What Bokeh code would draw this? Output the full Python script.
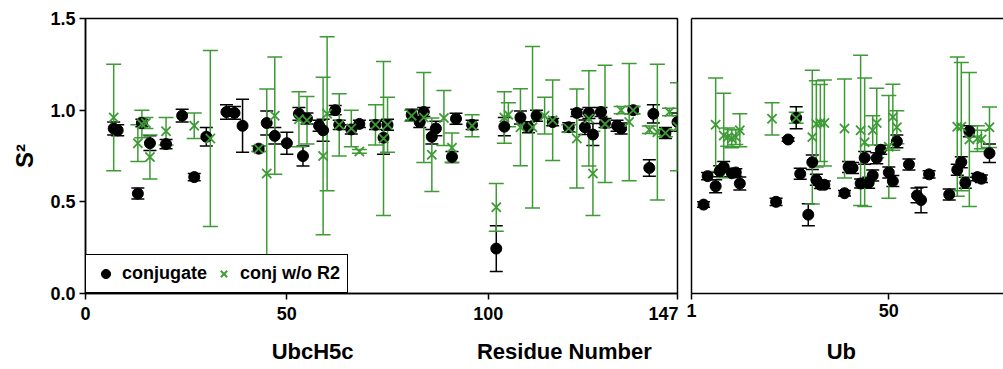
from bokeh.plotting import figure
from bokeh.models import (Whisker, TeeHead, ColumnDataSource, FixedTicker, PrintfTickFormatter,
                          Legend, LegendItem, LinearAxis)
from bokeh.core.properties import value
from bokeh.layouts import row, column
from bokeh.embed import file_html
from bokeh.resources import INLINE

FONT = "Liberation Sans"
GREEN = "#3d9a35"

# ---------------- UbcH5c (left panel) ----------------
ubc_conj_res = [7, 8, 13, 14, 16, 20, 24, 27, 30, 35, 37, 39, 43, 45, 47, 50, 53, 54, 55, 58, 59, 62, 63,
                66, 68, 72, 74, 75, 81, 83, 84, 86, 87, 91, 92, 96, 102, 104, 108, 110, 112, 116, 120, 122,
                124, 125, 126, 128, 129, 132, 133, 136, 140, 141, 144, 147]
ubc_conj_s2 = [0.90, 0.89, 0.545, 0.93, 0.82, 0.815, 0.97, 0.635, 0.855, 0.99, 0.985, 0.915, 0.79, 0.93,
               0.86, 0.82, 0.98, 0.75, 0.955, 0.915, 0.89, 1.0, 0.92, 0.895, 0.925, 0.92, 0.85, 0.92,
               0.975, 0.935, 0.99, 0.855, 0.90, 0.745, 0.953, 0.92, 0.245, 0.91, 0.96, 0.907, 0.97,
               0.935, 0.907, 0.985, 0.907, 0.985, 0.867, 0.99, 0.93, 0.915, 0.90, 1.0, 0.685, 0.98,
               0.875, 0.935]
ubc_conj_err = [0.035, 0.03, 0.03, 0.02, 0.04, 0.025, 0.035, 0.02, 0.05, 0.04, 0.035, 0.145, 0.015, 0.065,
                0.045, 0.06, 0.035, 0.055, 0.03, 0.03, 0.06, 0.025, 0.025, 0.025, 0.02, 0.025, 0.09, 0.03,
                0.03, 0.03, 0.025, 0.04, 0.04, 0.03, 0.03, 0.025, 0.125, 0.05, 0.035, 0.03, 0.03, 0.02,
                0.025, 0.02, 0.04, 0.03, 0.06, 0.025, 0.025, 0.03, 0.03, 0.02, 0.045, 0.05, 0.03, 0.05]

ubc_nor2_res = [7, 13, 14, 15, 16, 20, 27, 31, 43, 45, 47, 53, 55, 59, 60, 63, 66, 68, 72, 74, 75, 81, 84,
                86, 89, 91, 96, 102, 104, 105, 108, 111, 114, 116, 120, 122, 125, 126, 129, 133, 135, 136,
                140, 142, 144, 145, 147]
ubc_nor2_s2 = [0.96, 0.82, 0.925, 0.93, 0.745, 0.885, 0.915, 0.845, 0.79, 0.655, 0.97, 0.95, 0.945, 0.75,
               0.98, 0.92, 0.90, 0.775, 0.92, 0.845, 0.92, 0.97, 0.96, 0.757, 0.957, 0.795, 0.915, 0.47,
               0.96, 0.975, 0.907, 0.907, 0.97, 0.945, 0.90, 0.845, 0.955, 0.655, 0.925, 1.0, 0.935,
               1.0, 0.893, 0.88, 0.875, 0.99, 0.91]
ubc_nor2_err = [0.29, 0.10, 0.075, 0.03, 0.12, 0.075, 0.07, 0.48, 0.015, 0.46, 0.32, 0.15, 0.13, 0.43,
                0.42, 0.17, 0.10, 0.01, 0.11, 0.42, 0.15, 0.03, 0.245, 0.2, 0.15, 0.08, 0.06, 0.13, 0.14,
                0.065, 0.21, 0.44, 0.10, 0.22, 0.02, 0.27, 0.26, 0.23, 0.32, 0.02, 0.32, 0.02, 0.02,
                0.37, 0.02, 0.02, 0.24]

# ---------------- Ub (right panel) ----------------
ub_conj_res = [4, 5, 7, 8, 9, 11, 12, 13, 22, 25, 27, 28, 30, 31, 32, 33, 34, 39, 40, 41, 43, 44, 45, 46,
               47, 48, 50, 51, 52, 55, 57, 58, 60, 65, 67, 68, 69, 70, 72, 73, 75]
ub_conj_s2 = [0.485, 0.64, 0.585, 0.667, 0.69, 0.656, 0.66, 0.60, 0.50, 0.84, 0.958, 0.653, 0.43, 0.716,
              0.62, 0.593, 0.593, 0.547, 0.69, 0.685, 0.60, 0.74, 0.604, 0.644, 0.738, 0.784, 0.66,
              0.613, 0.83, 0.704, 0.535, 0.51, 0.65, 0.54, 0.675, 0.716, 0.604, 0.885, 0.635, 0.626,
              0.765]
ub_conj_err = [0.015, 0.02, 0.035, 0.03, 0.03, 0.02, 0.02, 0.035, 0.02, 0.01, 0.06, 0.03, 0.06, 0.04,
               0.03, 0.02, 0.02, 0.015, 0.03, 0.03, 0.025, 0.035, 0.03, 0.03, 0.03, 0.025, 0.03, 0.03,
               0.035, 0.03, 0.04, 0.07, 0.02, 0.03, 0.03, 0.03, 0.03, 0.03, 0.02, 0.02, 0.05]

ub_nor2_res = [7, 9, 10, 11, 12, 13, 21, 27, 31, 32, 33, 34, 39, 43, 44, 46, 47, 50, 51, 52, 67, 68, 70,
               72, 73, 75]
ub_nor2_s2 = [0.92, 0.862, 0.853, 0.845, 0.853, 0.89, 0.953, 0.958, 0.853, 0.925, 0.93, 0.93, 0.90, 0.89,
              0.825, 0.89, 0.93, 0.80, 0.962, 0.907, 0.91, 0.91, 0.84, 0.845, 0.84, 0.907]
ub_nor2_err = [0.255, 0.23, 0.05, 0.05, 0.04, 0.09, 0.088, 0.03, 0.365, 0.235, 0.21, 0.235, 0.27, 0.41,
               0.35, 0.08, 0.19, 0.28, 0.18, 0.09, 0.38, 0.35, 0.365, 0.07, 0.05, 0.11]

y_ticks = [0, 0.5, 1.0, 1.5]
ubc_ticks = [0, 50, 100, 147]
ub_ticks = [1, 50]
left_titles = ["UbcH5c", "Residue Number"]
left_title_pos = [56.4, 118.9]
right_titles = ["Ub"]
right_title_pos = [38.2]


def style_axis(ax, size="18px"):
    ax.axis_line_width = 1.5
    ax.axis_line_color = "black"
    ax.major_tick_line_width = 1.5
    ax.major_tick_line_color = "black"
    ax.major_tick_out = 6
    ax.major_tick_in = 0
    ax.minor_tick_line_color = None
    ax.major_label_text_font = FONT
    ax.major_label_text_font_size = size
    ax.major_label_text_font_style = "bold"
    ax.major_label_text_color = "black"
    ax.major_label_standoff = 4


def add_series(p, res, s2, err, color, marker, head, size, lw):
    src = ColumnDataSource(dict(x=res, y=s2,
                                lo=[a - b for a, b in zip(s2, err)],
                                hi=[a + b for a, b in zip(s2, err)]))
    w = Whisker(source=src, base="x", upper="hi", lower="lo", dimension="height",
                line_color=color, line_width=1.5,
                upper_head=TeeHead(size=head, line_color=color, line_width=1.5),
                lower_head=TeeHead(size=head, line_color=color, line_width=1.5))
    p.add_layout(w)
    if marker == "circle":
        r = p.scatter("x", "y", source=src, marker="circle", size=size, fill_color=color,
                      line_color=color)
    else:
        r = p.scatter("x", "y", source=src, marker="x", size=size, line_color=color, line_width=lw)
    return r


def title_strip(x_range, width, left, right, texts, pos):
    t = figure(width=width, height=37, x_range=x_range, y_range=(0, 1), output_backend="svg",
               toolbar_location=None, min_border_left=left, min_border_right=right,
               min_border_top=0, min_border_bottom=0, border_fill_color="white",
               background_fill_color="white")
    t.axis.visible = False
    t.grid.visible = False
    t.outline_line_color = None
    t.text(x=pos, y=[0.42] * len(pos), text=texts, text_align="center", text_baseline="middle",
           text_font=value(FONT), text_font_size=value("22px"), text_font_style="bold",
           text_color="black")
    return t


# ---------------- left figure ----------------
p1 = figure(width=683, height=330, x_range=(0, 147), y_range=(0, 1.5), output_backend="svg",
            toolbar_location=None, min_border_left=85, min_border_right=6, min_border_top=18,
            min_border_bottom=37, background_fill_color="white", border_fill_color="white")
p1.grid.visible = False
p1.outline_line_color = "black"
p1.outline_line_width = 1.5
p1.outline_line_alpha = 1

p1.xaxis.ticker = FixedTicker(ticks=ubc_ticks)
p1.xaxis.major_label_overrides = {147: "147\u00a0"}
p1.yaxis.ticker = FixedTicker(ticks=y_ticks)
p1.yaxis.formatter = PrintfTickFormatter(format="%.1f")
style_axis(p1.xaxis[0])
style_axis(p1.yaxis[0])
p1.yaxis.axis_label = "S\u00b2"
p1.yaxis.axis_label_text_font = FONT
p1.yaxis.axis_label_text_font_size = "24px"
p1.yaxis.axis_label_text_font_style = "bold"
p1.yaxis.axis_label_text_color = "black"
p1.yaxis.axis_label_standoff = 9

rc = add_series(p1, ubc_conj_res, ubc_conj_s2, ubc_conj_err, "black", "circle", 13, 11, 1)
rg = add_series(p1, ubc_nor2_res, ubc_nor2_s2, ubc_nor2_err, GREEN, "x", 15, 13, 1.8)

legend = Legend(items=[LegendItem(label="conjugate", renderers=[rc]),
                       LegendItem(label="conj w/o R2", renderers=[rg])],
                orientation="horizontal", location="bottom_left", margin=0, padding=7, spacing=4,
                glyph_width=25, glyph_height=23, label_standoff=4,
                border_line_color="black", border_line_width=1.5, border_line_alpha=1,
                background_fill_color="white", background_fill_alpha=1,
                label_text_font=FONT, label_text_font_size="18px", label_text_font_style="bold",
                label_text_color="black")
p1.add_layout(legend)

# ---------------- right figure ----------------
p2 = figure(width=320, height=330, x_range=(1, 78.48), y_range=(0, 1.5), output_backend="svg",
            toolbar_location=None, min_border_left=8, min_border_right=0, min_border_top=18,
            min_border_bottom=37, background_fill_color="white", border_fill_color="white")
p2.grid.visible = False
p2.outline_line_color = None
p2.xaxis.ticker = FixedTicker(ticks=ub_ticks)
style_axis(p2.xaxis[0])
style_axis(p2.yaxis[0])
p2.yaxis.ticker = FixedTicker(ticks=[])
p2.yaxis.major_label_text_font_size = "0px"
p2.yaxis.major_label_standoff = 0
p2.yaxis.major_tick_out = 0
top_ax = LinearAxis(ticker=FixedTicker(ticks=[]))
style_axis(top_ax)
top_ax.major_label_text_font_size = "0px"
top_ax.major_label_standoff = 0
top_ax.major_tick_out = 0
p2.add_layout(top_ax, "above")

add_series(p2, ub_conj_res, ub_conj_s2, ub_conj_err, "black", "circle", 13, 11, 1)
add_series(p2, ub_nor2_res, ub_nor2_s2, ub_nor2_err, GREEN, "x", 15, 13, 1.8)

# ---------------- axis titles ----------------
t1 = title_strip(p1.x_range, 683, 85, 6, left_titles, left_title_pos)
t2 = title_strip(p2.x_range, 320, 8, 0, right_titles, right_title_pos)

layout = column(row(p1, p2), row(t1, t2))
open("out.html", "w").write(file_html(layout, INLINE))
